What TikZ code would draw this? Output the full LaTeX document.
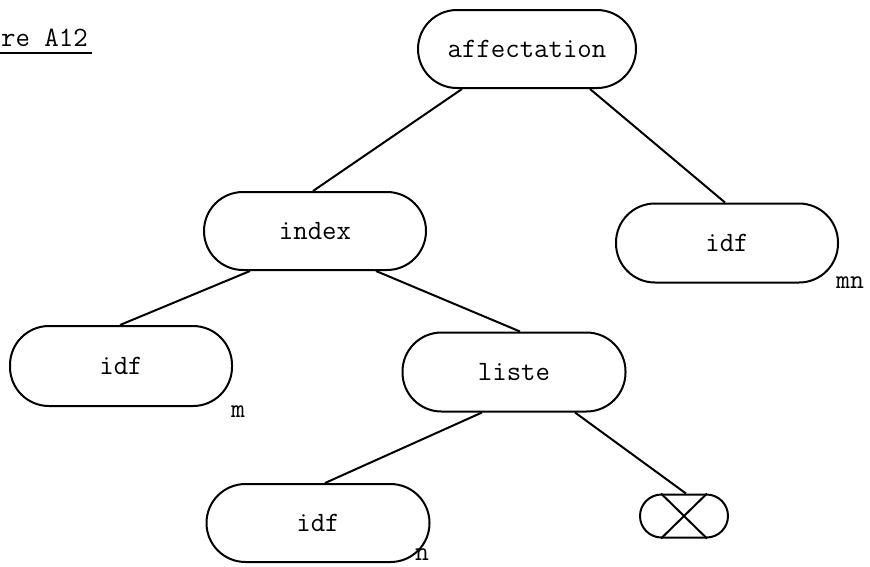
\documentclass[tikz,border=0pt]{standalone}
\usetikzlibrary{calc}
\begin{document}
\begin{tikzpicture}[x=1pt,y=-1pt,
  txt/.style={font=\ttfamily\fontsize{28}{32}\selectfont},
  tnode/.style={txt, draw, line width=2pt, rounded corners=39pt, minimum width=222pt, minimum height=78pt, inner sep=0pt},
  link/.style={line width=2pt},
  sub/.style={font=\ttfamily\fontsize{27}{30}\selectfont, inner sep=0pt}
]
\useasboundingbox (0,0) rectangle (870,566);
\node[txt, anchor=base west, inner sep=0pt] (title) at (1,46) {re A12};
\draw[line width=1.4pt] ($(title.base west)+(-1,7)$) coordinate (ul1) -- ($(title.base east)+(4,7)$) coordinate (ul2);

\node[tnode, minimum width=218pt] (aff) at (527,49) {affectation};
\node[tnode] (idx) at (315,231) {index};
\node[tnode, minimum height=79pt] (idfr) at (727,243) {idf};
\node[tnode, minimum height=80pt] (idfl) at (121,366) {idf};
\node[tnode, minimum width=223pt, minimum height=79pt] (lst) at (514,372) {liste};
\node[tnode, minimum width=223pt] (idfb) at (318,523) {idf};
\node[draw, line width=2pt, rounded corners=21.5pt, minimum width=88pt, minimum height=43pt, inner sep=0pt] (nil) at (684,516) {};
\draw[line width=2pt] ($(nil.north)+(-23,0)$) -- ($(nil.south)+(23,0)$);
\draw[line width=2pt] ($(nil.north)+(23,0)$) -- ($(nil.south)+(-23,0)$);

\node[sub] (lmn) at (850,283) {mn};
\node[sub] (lm) at (238,412) {m};
\node[sub] (ln) at (422,555) {n};

\draw[link] ($(aff.south)+(-65,0)$) -- ($(idx.north)+(-2,0)$);
\draw[link] ($(aff.south)+(63,0)$) -- ($(idfr.north)+(-2,0)$);
\draw[link] ($(idx.south)+(-65,0)$) -- ($(idfl.north)+(-1,0)$);
\draw[link] ($(idx.south)+(61,0)$) -- ($(lst.north)+(6,0)$);
\draw[link] ($(lst.south)+(-32,0)$) -- ($(idfb.north)+(7,0)$);
\draw[link] ($(lst.south)+(61,0)$) -- ($(nil.north)+(2,0)$);
\end{tikzpicture}
\end{document}
